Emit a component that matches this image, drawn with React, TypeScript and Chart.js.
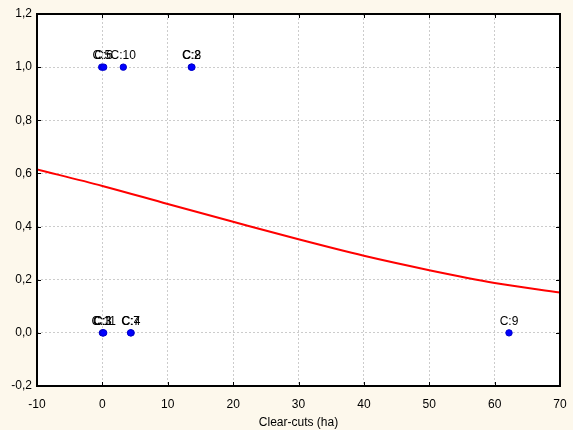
import React, { useEffect, useRef } from "react";
import { Chart, registerables } from "chart.js";

Chart.register(...registerables);

const pointLabels = ["C:1", "C:3", "C:11", "C:4", "C:7", "C:5", "C:6", "C:10", "C:2", "C:8", "C:9"];
const pointX = [0.1, 0.0, 0.2, 4.4, 4.3, -0.1, 0.2, 3.2, 13.6, 13.7, 62.2];
const pointY = [0, 0, 0, 0, 0, 1, 1, 1, 1, 1, 0];

const curveX = [-10, 0, 10, 20, 30, 40, 50, 60, 70];
const curveY = [0.615, 0.553, 0.485, 0.418, 0.352, 0.29, 0.236, 0.188, 0.152];

const FONT = "'Liberation Sans', Arial, sans-serif";

const framePlugin = {
  id: "frame",
  beforeDraw(chart: any) {
    const { ctx, chartArea: a } = chart;
    ctx.save();
    ctx.fillStyle = "#ffffff";
    ctx.fillRect(a.left, a.top, a.right - a.left, a.bottom - a.top);
    ctx.restore();
  },
  afterDatasetsDraw(chart: any) {
    const { ctx, chartArea: a, scales } = chart;
    ctx.save();
    const meta = chart.getDatasetMeta(1);
    ctx.font = `12px ${FONT}`;
    ctx.fillStyle = "#000000";
    ctx.textAlign = "center";
    ctx.textBaseline = "bottom";
    meta.data.forEach((el: any, i: number) => {
      ctx.fillText(pointLabels[i], el.x, el.y - 5);
    });
    ctx.strokeStyle = "#000";
    ctx.lineWidth = 1;
    const xs = scales.x, ys = scales.y;
    xs.ticks.forEach((t: any) => {
      const px = Math.round(xs.getPixelForValue(t.value)) + 0.5;
      ctx.beginPath();
      ctx.moveTo(px, a.bottom);
      ctx.lineTo(px, a.bottom - 4);
      ctx.moveTo(px, a.top);
      ctx.lineTo(px, a.top + 4);
      ctx.stroke();
    });
    ys.ticks.forEach((t: any) => {
      const py = Math.round(ys.getPixelForValue(t.value)) + 0.5;
      ctx.beginPath();
      ctx.moveTo(a.left, py);
      ctx.lineTo(a.left + 4, py);
      ctx.moveTo(a.right, py);
      ctx.lineTo(a.right - 4, py);
      ctx.stroke();
    });
    ctx.lineWidth = 2;
    ctx.strokeRect(a.left, a.top, a.right - a.left, a.bottom - a.top);
    ctx.restore();
  },
};

export default function App() {
  const ref = useRef<HTMLCanvasElement | null>(null);
  useEffect(() => {
    if (!ref.current) return;
    const chart = new Chart(ref.current, {
      type: "scatter",
      data: {
        datasets: [
          {
            type: "line",
            data: curveX.map((x, i) => ({ x, y: curveY[i] })),
            borderColor: "#ff0000",
            borderWidth: 2,
            pointRadius: 0,
            cubicInterpolationMode: "monotone",
            fill: false,
          } as any,
          {
            data: pointX.map((x, i) => ({ x, y: pointY[i] })),
            backgroundColor: "#0000ff",
            borderColor: "#0000cc",
            borderWidth: 1,
            pointRadius: 3.2,
          },
        ],
      },
      options: {
        responsive: false,
        animation: false,
        layout: { padding: { top: 14, right: 13, left: 0, bottom: 0 } },
        plugins: { legend: { display: false }, tooltip: { enabled: false } },
        scales: {
          x: {
            type: "linear",
            min: -10,
            max: 70,
            ticks: {
              stepSize: 10,
              color: "#000",
              font: { family: FONT, size: 12 },
              padding: 11,
            },
            grid: { color: "#cccccc", tickLength: 0, drawTicks: false },
            border: { display: false, dash: [2, 2] },
            title: {
              display: true,
              text: "Clear-cuts (ha)",
              color: "#000",
              font: { family: FONT, size: 12 },
              padding: { top: 2, bottom: 0 },
            },
            afterFit(s: any) {
              s.height = 44;
              s.paddingLeft = 0;
              s.paddingRight = 0;
            },
          },
          y: {
            min: -0.2,
            max: 1.2,
            ticks: {
              stepSize: 0.2,
              color: "#000",
              font: { family: FONT, size: 12 },
              padding: 5,
              callback: (v: any) => {
                const n = Math.round(Number(v) * 10) / 10;
                return (Math.abs(n) < 1e-9 ? 0 : n).toFixed(1).replace(".", ",");
              },
            },
            grid: { color: "#cccccc", tickLength: 0, drawTicks: false },
            border: { display: false, dash: [2, 2] },
            afterFit(s: any) {
              s.width = 37;
              s.paddingTop = 0;
              s.paddingBottom = 0;
            },
          },
        },
      },
      plugins: [framePlugin],
    });
    return () => chart.destroy();
  }, []);
  return (
    <div style={{ position: "fixed", left: 0, top: 0, width: 573, height: 430, background: "#fdf8ec" }}>
      <canvas ref={ref} width={573} height={430} />
    </div>
  );
}
